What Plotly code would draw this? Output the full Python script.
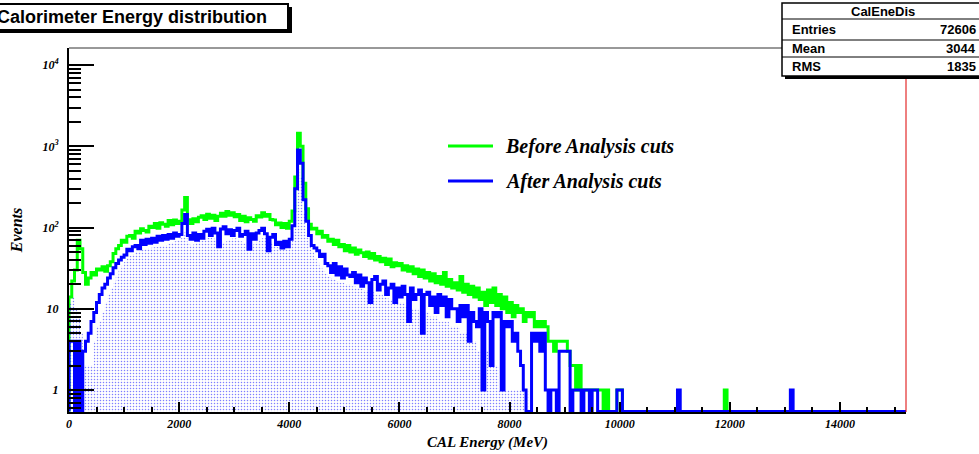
import plotly.graph_objects as go

# ---------------- data (counts per 50 MeV bin, starting at 0 MeV) ----------------
BIN_WIDTH = 50
X_MAX = 15200

before_cuts = [
    14, 22, 30, 70, 55, 28, 20, 24, 28, 26,          # 0-450
    31, 30, 33, 29, 34, 38, 48, 55, 60, 70,          # 500-950
    66, 78, 80, 74, 90, 86, 97, 92, 88, 104,         # 1000-1450
    100, 112, 98, 115, 110, 104, 122, 108, 124, 112,  # 1500-1950
    120, 165, 235, 125, 112, 128, 118, 134, 140, 126,  # 2000-2450
    146, 130, 142, 122, 138, 150, 138, 158, 142, 152,  # 2500-2950
    136, 145, 122, 138, 118, 132, 126, 120, 140, 135,  # 3000-3450
    152, 138, 145, 126, 124, 108, 114, 100, 112, 98,   # 3500-3950
    120, 160, 420, 1450, 1000, 350, 170, 110, 96, 98,  # 4000-4450
    84, 90, 76, 80, 68, 72, 62, 70, 58, 62,          # 4500-4950
    52, 60, 50, 56, 47, 53, 49, 44, 50, 42,          # 5000-5450
    48, 40, 44, 38, 42, 35, 41, 33, 37, 34,          # 5500-5950
    36, 30, 34, 29, 33, 27, 31, 25, 30, 24,          # 6000-6450
    28, 22, 27, 21, 25, 20, 28, 19, 23, 18,          # 6500-6950
    21, 17, 25, 16, 20, 15, 19, 14, 18, 13,          # 7000-7450
    16, 11, 17, 12, 18, 11, 15, 10, 14, 9,           # 7500-7950
    12, 8, 11, 9, 10, 7, 9, 8, 9, 6,                 # 8000-8450
    7, 6, 7, 6, 4, 4, 3, 4, 4, 4,                    # 8500-8950
    4, 3, 2, 2, 1, 2, 1, 1, 1, 1,                    # 9000-9450
    1, 1, 1, 1, 0, 1, 0, 0, 0, 1,                    # 9500-9950
]
before_extra_energy = [10000, 11900]
before_extra_counts = [1, 1]

after_cuts = [
    4, 4, 0, 4, 0, 3, 4, 5, 7, 9,                    # 0-450
    12, 15, 18, 20, 24, 27, 32, 36, 40, 43,          # 500-950
    46, 54, 52, 58, 60, 55, 70, 62, 72, 64,          # 1000-1450
    74, 66, 78, 70, 80, 72, 82, 74, 86, 78,          # 1500-1950
    82, 112, 145, 80, 72, 86, 70, 82, 74, 90,        # 2000-2450
    95, 80, 98, 86, 58, 96, 102, 84, 94, 80,         # 2500-2950
    92, 98, 78, 82, 90, 54, 84, 72, 86, 92,          # 3000-3450
    98, 84, 52, 76, 82, 62, 66, 56, 68, 58,          # 3500-3950
    72, 105, 300, 900, 620, 220, 120, 80, 60, 56,    # 4000-4450
    52, 44, 47, 36, 34, 28, 36, 26, 33, 24,          # 4500-4950
    31, 26, 25, 28, 21, 26, 19, 24, 21, 12,          # 5000-5450
    23, 25, 17, 20, 22, 15, 18, 20, 12, 18,          # 5500-5950
    14, 19, 15, 7, 18, 13, 15, 17, 5, 15,            # 6000-6450
    16, 11, 14, 9, 15, 11, 14, 8, 13, 10,            # 6500-6950
    10, 7, 11, 8, 11, 4, 9, 7, 6, 10,                # 7000-7450
    1, 9, 7, 2, 9, 8, 9, 1, 7, 6,                    # 7500-7950
    7, 4, 5, 3, 2, 1, 0, 0, 5, 4,                    # 8000-8450
    5, 3, 5, 1, 0, 1, 1, 0, 3, 3,                    # 8500-8950
    3, 3, 0, 1, 1, 1, 0, 1, 1, 0,                    # 9000-9450
    1, 1, 0, 0, 0, 0, 0, 0, 0, 1,                    # 9500-9950
]
after_extra_energy = [10000, 11050, 13100]
after_extra_counts = [1, 1, 1]

after_fill = [
    12, 14, 10, 8, 5, 2, 2, 2, 2, 4,                 # 0-450
    6, 7, 9, 12, 15, 18, 22, 26, 30, 34,             # 500-950
    38, 42, 45, 47, 50, 51, 53, 54, 55, 56,          # 1000-1450
    57, 57, 58, 59, 60, 61, 63, 65, 68, 70,          # 1500-1950
    74, 80, 90, 66, 60, 62, 65, 68, 70, 72,          # 2000-2450
    74, 75, 73, 70, 58, 64, 65, 68, 71, 73,          # 2500-2950
    74, 72, 68, 64, 62, 54, 60, 63, 67, 71,          # 3000-3450
    74, 74, 52, 65, 61, 58, 57, 55, 60, 58,          # 3500-3950
    66, 90, 240, 560, 420, 150, 85, 62, 50, 42,      # 4000-4450
    37, 33, 30, 27, 25, 24, 23, 22, 21, 21,          # 4500-4950
    20, 20, 19, 19, 18, 18, 18, 17, 17, 12,          # 5000-5450
    16, 15, 15, 15, 14, 14, 13, 13, 12, 12,          # 5500-5950
    12, 12, 11, 7, 10, 10, 10, 9, 5, 9,              # 6000-6450
    9, 8, 8, 8, 7, 7, 7, 7, 6, 6,                    # 6500-6950
    6, 6, 5, 5, 5, 4, 4, 4, 3, 3,                    # 7000-7450
    1, 3, 3, 2, 2, 2, 1, 1, 1, 1,                    # 7500-7950
    1, 1, 1, 1, 1, 1, 1, 0,                          # 8000-8350
]

y_tick_vals = [1, 10, 100, 1000, 10000]
y_tick_text = ["1", "10", "10<sup>2</sup>", "10<sup>3</sup>", "10<sup>4</sup>"]
x_tick_vals = [0, 2000, 4000, 6000, 8000, 10000, 12000, 14000]
x_tick_text = ["0", "2000", "4000", "6000", "8000", "10000", "12000", "14000"]

stats_name = "CalEneDis"
stats_labels = ["Entries", "Mean", "RMS"]
stats_values = ["72606", "3044", "1835"]

# ---------------- helpers ----------------
Y_LOG_MIN, Y_LOG_MAX = -0.27, 4.21
FLOOR = 10 ** (Y_LOG_MIN + 0.005)
NBINS = int(X_MAX / BIN_WIDTH)


def full_hist(main, extra_e, extra_c):
    h = list(main) + [0] * (NBINS - len(main))
    for e, c in zip(extra_e, extra_c):
        h[int(e // BIN_WIDTH)] = c
    return h


def step_xy(counts, nb=None):
    xs, ys = [0], [FLOOR]
    n = len(counts) if nb is None else nb
    for i in range(n):
        c = counts[i] if i < len(counts) else 0
        v = c if c > 0 else FLOOR
        lo, hi = i * BIN_WIDTH, (i + 1) * BIN_WIDTH
        xs += [lo, hi]
        ys += [v, v]
    xs.append(n * BIN_WIDTH)
    ys.append(FLOOR)
    return xs, ys


green_h = full_hist(before_cuts, before_extra_energy, before_extra_counts)
blue_h = full_hist(after_cuts, after_extra_energy, after_extra_counts)

gx, gy = step_xy(green_h)
bx, by = step_xy(blue_h)
fx, fy = step_xy(after_fill)

SERIF = "Liberation Serif"
SANS = "Liberation Sans"

fig = go.Figure()
fig.add_trace(go.Scatter(x=gx, y=gy, mode="lines", line=dict(color="#00ff00", width=3),
                         name="Before Analysis cuts", showlegend=False))
fig.add_trace(go.Scatter(x=fx, y=fy, mode="lines", fill="toself", line=dict(width=0, color="rgba(0,0,0,0)"),
                         fillcolor="rgba(0,0,0,0)",
                         fillpattern=dict(shape=".", fgcolor="#0000ff", size=3, solidity=0.2),
                         showlegend=False, hoverinfo="skip"))
fig.add_trace(go.Scatter(x=bx, y=by, mode="lines", line=dict(color="#0000ff", width=3),
                         name="After Analysis cuts", showlegend=False))

# pixel -> paper helpers (layout placement only)
L, R, T, B = 69, 906, 48, 412


def px(x):
    return (x - L) / (R - L)


def py(y):
    return (B - y) / (B - T)


shapes = []
annotations = []
# frame top and right
shapes.append(dict(type="line", xref="paper", yref="paper", x0=px(69), x1=px(782), y0=py(48), y1=py(48),
                   line=dict(color="#333333", width=1)))
shapes.append(dict(type="line", xref="paper", yref="paper", x0=px(906), x1=px(906), y0=py(48), y1=py(412),
                   line=dict(color="#dd0000", width=1)))
# title box
shapes.append(dict(type="rect", xref="paper", yref="paper", x0=px(-6), x1=px(292), y0=py(33), y1=py(7),
                   fillcolor="black", line=dict(width=0), layer="above"))
shapes.append(dict(type="rect", xref="paper", yref="paper", x0=px(-6), x1=px(288), y0=py(30), y1=py(4),
                   fillcolor="white", line=dict(color="black", width=2), layer="above"))
annotations.append(dict(xref="paper", yref="paper", x=px(132), y=py(17), text="Calorimeter Energy distribution",
                        showarrow=False, xanchor="center", yanchor="middle",
                        font=dict(family=SANS, size=18, color="black", weight="bold")))
# stats box
shapes.append(dict(type="rect", xref="paper", yref="paper", x0=px(785), x1=px(990), y0=py(79), y1=py(6),
                   fillcolor="black", line=dict(width=0), layer="above"))
shapes.append(dict(type="rect", xref="paper", yref="paper", x0=px(782), x1=px(985), y0=py(76), y1=py(3),
                   fillcolor="white", line=dict(color="black", width=1.5), layer="above"))
for ysep in [19, 40, 57]:
    shapes.append(dict(type="line", xref="paper", yref="paper", x0=px(782), x1=px(985), y0=py(ysep), y1=py(ysep),
                       line=dict(color="black", width=1), layer="above"))
annotations.append(dict(xref="paper", yref="paper", x=px(883), y=py(11.5), text=stats_name, showarrow=False,
                        xanchor="center", yanchor="middle",
                        font=dict(family=SANS, size=13, color="black", weight="bold")))
for lab, val, yc in zip(stats_labels, stats_values, [30, 48.5, 66.5]):
    annotations.append(dict(xref="paper", yref="paper", x=px(790), y=py(yc), text=lab, showarrow=False,
                            xanchor="left", yanchor="middle",
                            font=dict(family=SANS, size=13, color="black", weight="bold")))
    annotations.append(dict(xref="paper", yref="paper", x=px(978), y=py(yc), text=val, showarrow=False,
                            xanchor="right", yanchor="middle",
                            font=dict(family=SANS, size=13, color="black", weight="bold")))
# legend
for col, txt, yc in [("#00ff00", "Before Analysis cuts", 146), ("#0000ff", "After Analysis cuts", 181)]:
    shapes.append(dict(type="line", xref="paper", yref="paper", x0=px(448), x1=px(493), y0=py(yc), y1=py(yc),
                       line=dict(color=col, width=3)))
    annotations.append(dict(xref="paper", yref="paper", x=px(503), y=py(yc), text=txt, showarrow=False,
                            xanchor="left", yanchor="middle",
                            font=dict(family=SERIF, size=20, color="black", weight="bold", style="italic")))

y_minor = [d * 10 ** k for k in range(-1, 4) for d in range(2, 10)
           if 10 ** Y_LOG_MIN <= d * 10 ** k <= 10 ** Y_LOG_MAX]

fig.update_layout(
    width=979, height=454,
    margin=dict(l=L, r=979 - R, t=T, b=454 - B),
    paper_bgcolor="white", plot_bgcolor="white",
    showlegend=False,
    shapes=shapes, annotations=annotations,
    xaxis=dict(range=[0, X_MAX], showgrid=False, zeroline=False, showline=True, linecolor="black", linewidth=2,
               ticks="inside", ticklen=10, tickwidth=2, tickcolor="black",
               tickmode="array", tickvals=x_tick_vals, ticktext=x_tick_text,
               tickfont=dict(family=SERIF, size=12, color="black", weight="bold", style="italic"),
               minor=dict(dtick=500, tick0=0, ticks="inside", ticklen=5, tickwidth=2, tickcolor="black",
                          showgrid=False),
               title=dict(text="CAL Energy (MeV)", standoff=6,
                          font=dict(family=SERIF, size=15, color="black", weight="bold", style="italic")),
               automargin=False),
    yaxis=dict(type="log", range=[Y_LOG_MIN, Y_LOG_MAX], showgrid=False, zeroline=False, showline=True,
               linecolor="black", linewidth=2,
               ticks="inside", ticklen=25, tickwidth=2, tickcolor="black",
               tickmode="array", tickvals=y_tick_vals, ticktext=y_tick_text, ticklabelstandoff=6,
               tickfont=dict(family=SERIF, size=12, color="black", weight="bold", style="italic"),
               minor=dict(tickmode="array", tickvals=y_minor, ticks="inside", ticklen=12, tickwidth=2,
                          tickcolor="black", showgrid=False),
               title=dict(text="Events", standoff=16,
                          font=dict(family=SERIF, size=16, color="black", weight="bold", style="italic")),
               automargin=False),
)

fig.write_html("out.html")
